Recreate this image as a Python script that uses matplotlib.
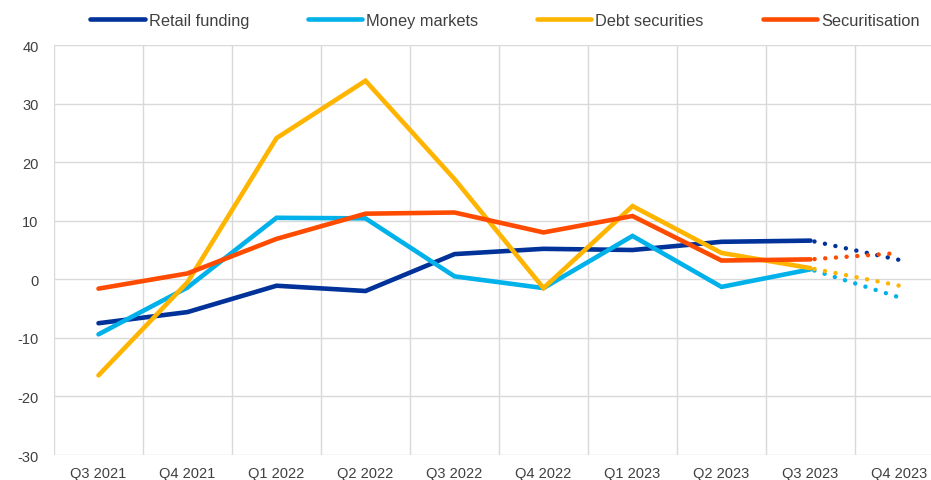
import matplotlib
matplotlib.use("Agg")
from matplotlib import pyplot as plt
import numpy as np

plt.rcParams['font.family'] = ['Liberation Sans', 'DejaVu Sans']
plt.rcParams['axes.unicode_minus'] = False

quarters = ["Q3 2021", "Q4 2021", "Q1 2022", "Q2 2022", "Q3 2022",
            "Q4 2022", "Q1 2023", "Q2 2023", "Q3 2023", "Q4 2023"]

retail_funding = [-7.5, -5.6, -1.1, -2.0, 4.3, 5.2, 5.0, 6.4, 6.6, 3.3]
money_markets  = [-9.4, -1.4, 10.5, 10.4, 0.5, -1.5, 7.4, -1.3, 1.7, -3.1]
debt_securities = [-16.4, -0.5, 24.1, 33.9, 17.1, -1.5, 12.5, 4.5, 1.9, -1.1]
securitisation = [-1.6, 1.0, 6.9, 11.2, 11.4, 8.0, 10.8, 3.2, 3.4, 4.5]

series = [
  ("Retail funding",  retail_funding,  "#003299"),
  ("Money markets",   money_markets,   "#00B1EA"),
  ("Debt securities", debt_securities, "#FFB400"),
  ("Securitisation",  securitisation,  "#FF4B00"),
]

fig = plt.figure(figsize=(9.31, 4.81), dpi=100)
ax = fig.add_axes([54/931, 1 - 456/481, 890/931, 410/481])

x = np.arange(len(quarters))
last_solid = len(quarters) - 2  # final quarter is a projection (dotted)

for name, vals, col in series:
  vals = np.array(vals)
  ax.plot(x[:last_solid + 1], vals[:last_solid + 1], color=col, linewidth=3.3,
          solid_capstyle="round", solid_joinstyle="miter", label=name)
  ax.plot(x[last_solid:], vals[last_solid:], color=col, linewidth=3.2,
          linestyle=(1.5, (0.01, 2.4)), dash_capstyle="round")

ax.set_xlim(-0.5, len(quarters) - 0.5)
ax.set_ylim(-30, 40)
ax.set_yticks(np.arange(-30, 41, 10))
ax.set_xticks(x)
ax.set_xticklabels(quarters)
ax.set_xticks(np.arange(-0.5, len(quarters), 1), minor=True)

ax.grid(axis="y", which="major", color="#D9D9D9", linewidth=1)
ax.grid(axis="x", which="minor", color="#D9D9D9", linewidth=1)
ax.set_axisbelow(True)
for s in ax.spines.values():
  s.set_visible(False)
ax.tick_params(axis="both", which="both", length=0, labelsize=10.5, colors="#404040")
ax.tick_params(axis="x", pad=8)
ax.tick_params(axis="y", pad=11)

fig.legend(loc="center", bbox_to_anchor=(0.5425, 0.955), ncol=4, frameon=False,
           fontsize=11.8, handlelength=3.3, handletextpad=0.25, columnspacing=3.6,
           labelcolor="#404040")

fig.savefig("out.png", dpi=100)
